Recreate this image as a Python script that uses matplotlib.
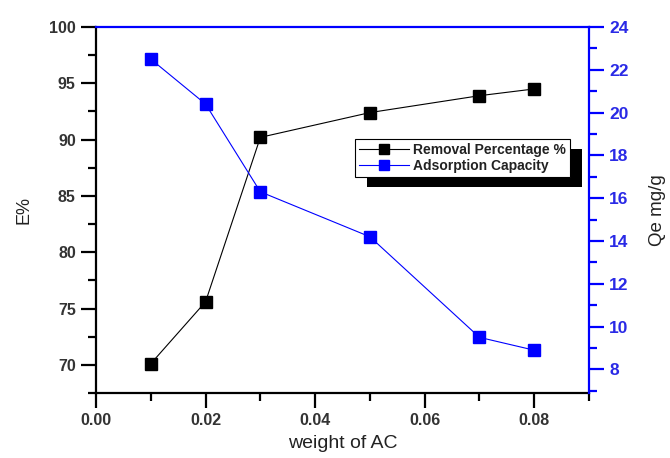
import matplotlib
matplotlib.use("Agg")
import matplotlib.pyplot as plt
from matplotlib.patches import Rectangle
from matplotlib.ticker import MultipleLocator
from matplotlib.transforms import IdentityTransform

plt.rcParams['font.family'] = ['Liberation Sans', 'DejaVu Sans']

weight = [0.01, 0.02, 0.03, 0.05, 0.07, 0.08]
removal = [70.1, 75.6, 90.2, 92.4, 93.9, 94.5]
capacity = [22.5, 20.4, 16.3, 14.2, 9.5, 8.9]
x_ticks = [0.00, 0.02, 0.04, 0.06, 0.08]
left_ticks = [70, 75, 80, 85, 90, 95, 100]
right_ticks = [8, 10, 12, 14, 16, 18, 20, 22, 24]

BLUE = '#0000ff'
TXT = '#333333'

fig = plt.figure(figsize=(6.7, 4.58), dpi=100)
ax = fig.add_axes([96/670, 65/458, 493/670, 366/458])
ax2 = ax.twinx()

l1, = ax.plot(weight, removal, color='black', lw=0.8, marker='s', ms=9,
              mfc='black', mec='black', label='Removal Percentage %')
l2, = ax2.plot(weight, capacity, color=BLUE, lw=0.8, marker='s', ms=9,
               mfc=BLUE, mec=BLUE, label='Adsorption Capacity')

ax.set_xlim(0, 0.09)
ax.set_ylim(67.5, 100)
ax2.set_ylim(6.9, 24)

ax.set_xticks(x_ticks)
ax.set_xticklabels([f'{v:.2f}' for v in x_ticks])
ax.xaxis.set_minor_locator(MultipleLocator(0.01))
ax.set_yticks(left_ticks)
ax.yaxis.set_minor_locator(MultipleLocator(2.5))
ax2.set_yticks(right_ticks)
ax2.yaxis.set_minor_locator(MultipleLocator(1))

for a in (ax, ax2):
    for s in a.spines.values():
        s.set_linewidth(1.6)
ax.spines['top'].set_visible(False)
ax.spines['right'].set_visible(False)
ax2.spines['left'].set_visible(False)
ax2.spines['bottom'].set_visible(False)
ax2.spines['right'].set_color(BLUE)
ax2.spines['top'].set_color(BLUE)

ax.tick_params(axis='both', which='major', direction='out', length=11, width=1.6,
               labelsize=11.5, labelcolor=TXT, top=False, right=False)
ax.tick_params(axis='both', which='minor', direction='out', length=6, width=1.6,
               top=False, right=False)
ax2.tick_params(axis='y', which='major', direction='out', length=11, width=1.6,
                color=BLUE, labelsize=12.5, labelcolor='#2a2ae6')
ax2.tick_params(axis='y', which='minor', direction='out', length=6, width=1.6,
                color=BLUE)
for lab in ax.get_xticklabels() + ax.get_yticklabels() + ax2.get_yticklabels():
    lab.set_fontweight('bold')

ax.set_xlabel('weight of AC', fontsize=14, color='#222222', labelpad=5)
ax.set_ylabel('E%', fontsize=13, color='#222222', labelpad=12)
ax2.set_ylabel('Qe mg/g', fontsize=13.5, color='#222222', labelpad=15)

leg = ax2.legend([l1, l2], ['Removal Percentage %', 'Adsorption Capacity'],
                 loc='upper left', bbox_to_anchor=(0.525, 0.694),
                 fontsize=10, frameon=True, fancybox=False, framealpha=1,
                 edgecolor='black', borderpad=0.3, handlelength=3.6,
                 handletextpad=0.3, labelspacing=0.15, borderaxespad=0,
                 markerscale=0.85)
leg.get_frame().set_linewidth(0.8)
for t in leg.get_texts():
    t.set_fontweight('bold')
    t.set_color('#222222')

fig.canvas.draw()
bb = leg.get_window_extent()
shadow = Rectangle((bb.x0 + 12, bb.y0 - 10), bb.width, bb.height,
                   transform=IdentityTransform(), facecolor='black',
                   edgecolor='none', zorder=4.5, clip_on=False)
ax2.add_artist(shadow)

fig.savefig('out.png', dpi=100)
